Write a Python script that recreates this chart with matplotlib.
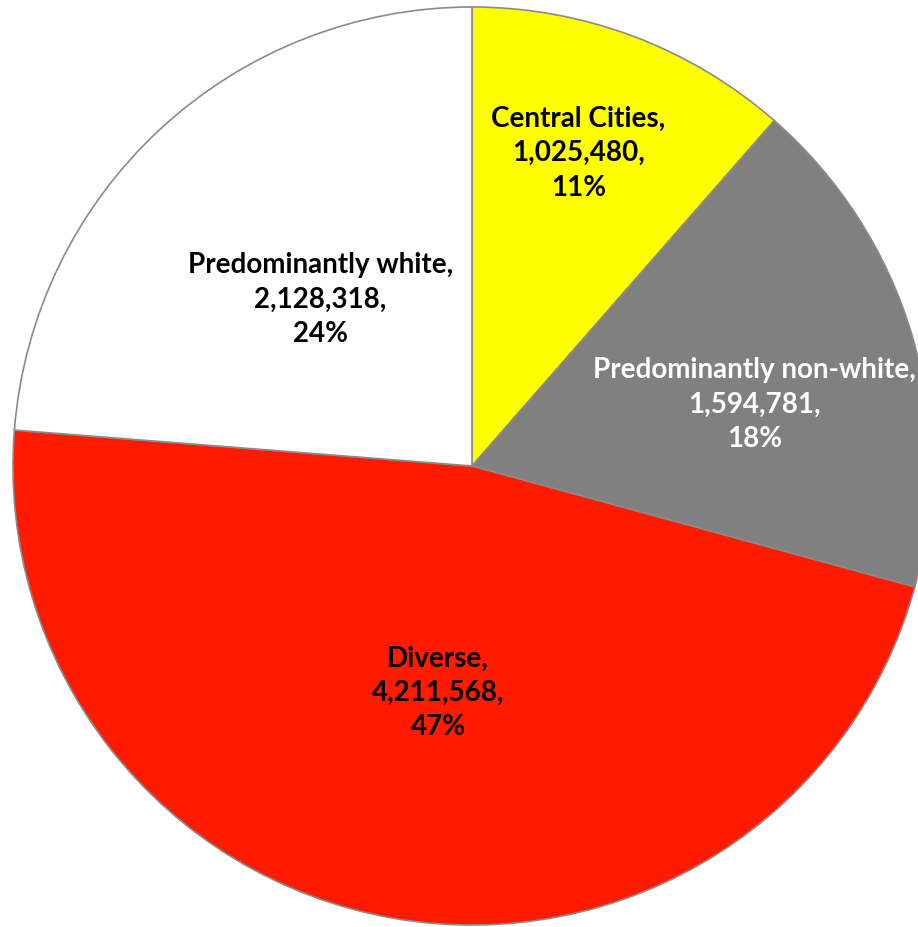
import numpy as np
import matplotlib
matplotlib.use('Agg')
import matplotlib.pyplot as plt

# data
names = ['Central Cities', 'Predominantly non-white', 'Diverse', 'Predominantly white']
counts = [1025480, 1594781, 4211568, 2128318]
colors = ['#FFFF00', '#808080', '#FF1A00', '#FFFFFF']
text_colors = ['black', 'white', 'black', 'black']

# label placement (fraction of radius, angle tweak in degrees) - picked by eye
label_dist = [0.72, 0.63, 0.50, 0.49]
label_dang = [1.8, -4.5, 1.4, -0.4]

W, H = 918, 927
cx, cy, R = 472, H - 466, 459

fig = plt.figure(figsize=(W / 100, H / 100), dpi=100)
ax = fig.add_axes([0, 0, 1, 1])

wedges, _ = ax.pie(counts, colors=colors, startangle=90, counterclock=False,
                   center=(cx, cy), radius=R,
                   wedgeprops=dict(edgecolor='#8a8a8a', linewidth=1.2))

total = sum(counts)
for w, name, n, tc, d, da in zip(wedges, names, counts, text_colors, label_dist, label_dang):
    ang = np.deg2rad((w.theta1 + w.theta2) / 2 + da)
    x = cx + d * R * np.cos(ang)
    y = cy + d * R * np.sin(ang)
    pct = round(100 * n / total)
    ax.text(x, y, f'{name},\n{n:,},\n{pct}%', ha='center', va='center',
            color=tc, fontsize=20, fontweight='bold', family='Lato',
            linespacing=1.4)

ax.set_xlim(0, W)
ax.set_ylim(0, H)
ax.set_aspect('equal')
ax.axis('off')

fig.savefig('out.png', dpi=100)
